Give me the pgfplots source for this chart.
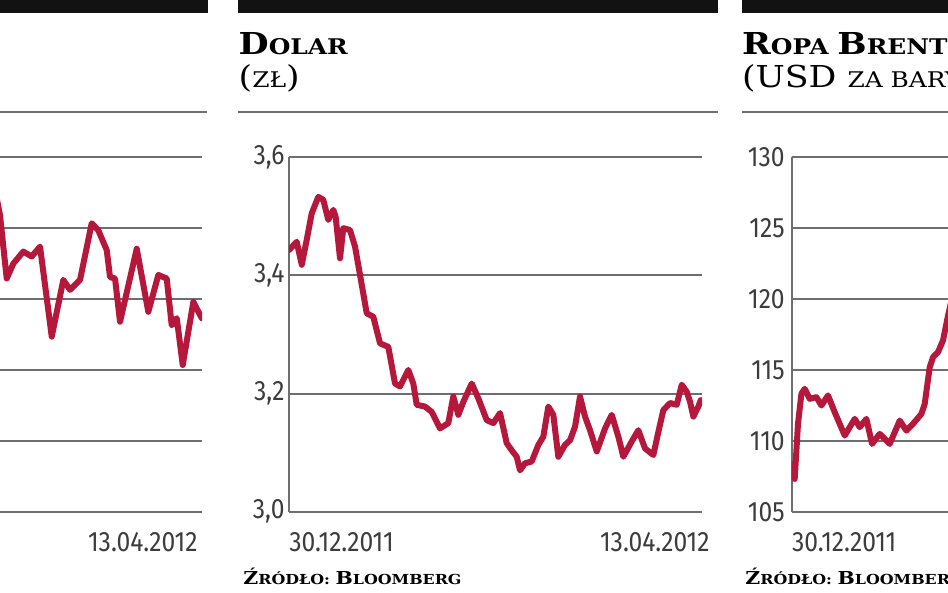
\documentclass[border=0pt]{standalone}
\usepackage{pgfplots}
\pgfplotsset{compat=1.18}
\usepackage{fontspec}
\setmainfont{DejaVu Serif}
\newfontfamily\titlefont[FakeStretch=1.15]{DejaVu Serif}
\newfontfamily\tickfont[FakeStretch=0.88]{Fira Sans}
\definecolor{linered}{RGB}{182,24,60}
\definecolor{gridgray}{RGB}{110,110,110}
\definecolor{ticktext}{RGB}{60,60,60}
\definecolor{barblack}{RGB}{18,18,18}
\newcommand{\tbig}{\fontsize{15.1pt}{16pt}\selectfont}
\newcommand{\tsmall}{\fontsize{10.8pt}{12pt}\selectfont}
\newcommand{\sbig}{\fontsize{8.9pt}{9pt}\selectfont}
\newcommand{\ssmall}{\fontsize{6.9pt}{7pt}\selectfont}

\pgfplotsset{
  panel/.style={
    scale only axis, width=206.5pt, height=177.2pt,
    anchor=south west,
    xmin=0, xmax=105,
    axis x line*=bottom, axis y line*=left,
    axis line style={draw=gridgray, line width=1pt, -},
    ymajorgrids, grid style={draw=gridgray, line width=1pt},
    major tick length=0pt,
    tick label style={font=\tickfont\fontsize{14pt}{14pt}\selectfont, text=ticktext},
    /pgf/number format/assume math mode=true,
    yticklabel style={anchor=east, inner sep=0pt, xshift=-2pt},
    xticklabel style={anchor=north west, inner sep=0pt, yshift=-10pt},
    xtick={0}, xticklabels={30.12.2011},
    extra x ticks={105}, extra x tick labels={13.04.2012},
  },
  series/.style={draw=linered, line width=3pt, line join=round, line cap=round, mark=none},
}

\begin{document}
\begin{tikzpicture}
\path[use as bounding box] (0,0) rectangle (474pt,296.5pt);
\clip (0,0) rectangle (474pt,296.5pt);
\fill[white] (0,0) rectangle (474pt,296.5pt);

% black header bars
\fill[barblack] (-10pt,290.15pt) rectangle (103.85pt,296.5pt);
\fill[barblack] (119.15pt,290.15pt) rectangle (359pt,296.5pt);
\fill[barblack] (370.85pt,290.15pt) rectangle (484pt,296.5pt);
% separators
\draw[gridgray, line width=1pt] (-10pt,240.65pt) -- (103.35pt,240.65pt);
\draw[gridgray, line width=1pt] (119.15pt,240.65pt) -- (359pt,240.65pt);
\draw[gridgray, line width=1pt] (370.85pt,240.65pt) -- (484pt,240.65pt);

% titles
\node[anchor=base west, inner sep=0pt] at (119.15pt,269pt) {\titlefont\bfseries\tbig D\tsmall OLAR};
\node[anchor=base west, inner sep=0pt] at (119.15pt,252.85pt) {\titlefont\tbig(\tsmall ZŁ\tbig)};
\node[anchor=base west, inner sep=0pt] at (370.85pt,269pt) {\titlefont\bfseries\tbig R\tsmall OPA \tbig B\tsmall RENT};
\node[anchor=base west, inner sep=0pt] at (370.85pt,252.85pt) {\titlefont\tbig(USD \tsmall ZA BARYŁKĘ\tbig)};
% sources
\node[anchor=base west, inner sep=0pt] at (121.5pt,4pt) {\titlefont\bfseries\sbig Ź\ssmall RÓDŁO: \sbig B\ssmall LOOMBERG};
\node[anchor=base west, inner sep=0pt] at (372.5pt,4pt) {\titlefont\bfseries\sbig Ź\ssmall RÓDŁO: \sbig B\ssmall LOOMBERG};

% left panel (partly visible)
\begin{axis}[panel, at={(-105.5pt,40.65pt)},
  ymin=4.0, ymax=4.5, ytick={4.0,4.1,4.2,4.3,4.4,4.5},
  yticklabel style={/pgf/number format/.cd, fixed, fixed zerofill, precision=1, use comma},
  extra x tick style={grid=none, xticklabel style={anchor=north east, xshift=-2pt}}]
\addplot[series] coordinates {(50.5,4.47)(52.4,4.454)(53.65,4.418)(55.35,4.329)(57.03,4.350)(59.57,4.367)(61.71,4.360)(63.82,4.374)(66.8,4.247)(69.74,4.327)(71.45,4.313)(73.99,4.327)(76.96,4.407)(78.64,4.397)(80.78,4.369)(81.62,4.331)(82.89,4.329)(84.16,4.268)(88.41,4.371)(91.35,4.282)(93.9,4.334)(96.03,4.329)(97.3,4.263)(98.58,4.273)(100.1,4.207)(102.8,4.296)(104.93,4.273)};
\end{axis}

% middle panel: Dolar
\begin{axis}[panel, at={(144.5pt,40.65pt)},
  ymin=3.0, ymax=3.6, ytick={3.0,3.2,3.4,3.6},
  yticklabel style={/pgf/number format/.cd, fixed, fixed zerofill, precision=1, use comma},
  extra x tick style={grid=none, xticklabel style={anchor=north east, xshift=4pt}}]
\addplot[series] coordinates {(0,3.443)(1.96,3.457)(3.24,3.418)(4.5,3.460)(5.77,3.505)(7.45,3.533)(8.72,3.528)(9.99,3.494)(11.26,3.511)(11.87,3.499)(12.97,3.429)(13.8,3.480)(15.5,3.477)(16.78,3.449)(18.05,3.401)(19.76,3.336)(21.43,3.330)(23.14,3.285)(25.25,3.279)(26.95,3.217)(28.22,3.212)(30.33,3.240)(31.6,3.217)(32.47,3.181)(34.58,3.178)(36.28,3.169)(38.39,3.141)(40.5,3.150)(41.77,3.195)(43.05,3.164)(44.32,3.186)(46.45,3.217)(48.13,3.192)(50.27,3.155)(51.95,3.150)(53.65,3.167)(55.35,3.116)(56.62,3.104)(57.89,3.093)(58.73,3.070)(60,3.082)(61.7,3.085)(63.39,3.113)(64.66,3.127)(65.93,3.178)(67.2,3.164)(68.47,3.093)(70.17,3.113)(71.45,3.121)(72.72,3.144)(73.99,3.195)(75.26,3.161)(76.53,3.138)(78.24,3.102)(80.35,3.141)(82.05,3.164)(83.73,3.127)(85,3.093)(87.14,3.119)(88.81,3.138)(90.52,3.107)(92.63,3.096)(93.9,3.135)(95.17,3.172)(96.87,3.184)(98.58,3.181)(99.85,3.215)(101.12,3.203)(101.96,3.186)(102.8,3.161)(104.07,3.178)(104.68,3.189)};
\end{axis}

% right panel: Ropa Brent (partly visible)
\begin{axis}[panel, at={(395.85pt,40.65pt)},
  ymin=105, ymax=130, ytick={105,110,115,120,125,130},
  yticklabel style={xshift=-1.3pt},
  extra x tick style={grid=none, xticklabel style={anchor=north east, xshift=4pt}}]
\addplot[series] coordinates {(0,108.37)(0.76,107.31)(1.6,111.2)(2.47,113.32)(3.3,113.67)(4.58,112.96)(6.28,113.08)(7.55,112.49)(9.23,113.2)(10.93,112.02)(13.48,110.37)(16.02,111.55)(17.29,110.96)(18.99,111.55)(20.42,109.78)(22.37,110.49)(24.92,109.78)(27.46,111.43)(29.16,110.72)(30.84,111.2)(32.98,111.9)(33.82,112.61)(35.09,115.2)(35.93,115.9)(37.2,116.26)(38.47,117.08)(39.66,118.73)(40.7,120.0)(41.5,120.6)};
\end{axis}
\end{tikzpicture}
\end{document}
